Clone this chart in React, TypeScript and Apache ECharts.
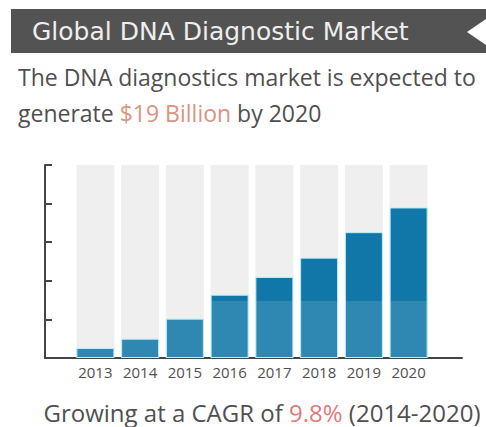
import React, { useEffect, useRef } from "react";
import * as echarts from "echarts";

const years = ["2013", "2014", "2015", "2016", "2017", "2018", "2019", "2020"];
const marketValues = [1.3, 2.5, 5.1, 8.2, 10.5, 13.0, 16.3, 19.5];
const yTicks = { min: 0, max: 25, interval: 5 };

const titleText = "Global DNA Diagnostic Market";
const subtitleLine1 = "The DNA diagnostics market is expected to";
const subtitleLine2Start = "generate ";
const subtitleHighlight = "$19 Billion";
const subtitleLine2End = " by 2020";
const footerStart = "Growing at a CAGR of ";
const footerHighlight = "9.8%";
const footerEnd = " (2014-2020)";

export default function App() {
  const ref = useRef<HTMLDivElement>(null);
  useEffect(() => {
    if (!ref.current) return;
    const chart = echarts.init(ref.current, null, { renderer: "svg" });
    const barColor = new echarts.graphic.LinearGradient(0, 0, 0, 427, [
      { offset: 0, color: "#1176a8" },
      { offset: 301 / 427, color: "#1176a8" },
      { offset: 301 / 427 + 0.001, color: "#2e88b2" },
      { offset: 1, color: "#2e88b2" },
    ], true);
    chart.setOption({
      animation: false,
      backgroundColor: "#ffffff",
      graphic: [
        { type: "rect", shape: { x: 11, y: 9, width: 475, height: 44 }, style: { fill: "#535353" } },
        { type: "polygon", shape: { points: [[486, 19], [467, 32], [486, 45]] }, style: { fill: "#ffffff" } },
        {
          type: "text", x: 32, y: 31,
          style: { text: titleText, fill: "#eeeeee", font: "25px 'DejaVu Sans'", textVerticalAlign: "middle" },
        },
        {
          type: "text", x: 18, y: 77,
          style: { text: subtitleLine1, fill: "#505050", font: "23px 'Open Sans'", textVerticalAlign: "middle" },
        },
        {
          type: "text", x: 18, y: 113,
          style: {
            text: `{a|${subtitleLine2Start}}{b|${subtitleHighlight}}{a|${subtitleLine2End}}`,
            textVerticalAlign: "middle",
            rich: {
              a: { fill: "#505050", font: "23px 'Open Sans'" },
              b: { fill: "#d9957f", font: "23px 'Open Sans'" },
            },
          },
        },
        {
          type: "text", x: 262, y: 412,
          style: {
            text: `{a|${footerStart}}{b|${footerHighlight}}{a|${footerEnd}}`,
            textAlign: "center",
            textVerticalAlign: "middle",
            rich: {
              a: { fill: "#505050", font: "24px 'Open Sans'" },
              b: { fill: "#e07a7a", font: "24px 'Open Sans'" },
            },
          },
        },
      ],
      grid: [
        { left: 73, right: 55, top: 165, bottom: 69 },
        { left: 45, right: 24, top: 165, bottom: 69 },
      ],
      xAxis: [
        {
          type: "category", data: years, gridIndex: 0,
          axisLine: { show: false }, axisTick: { show: false },
          axisLabel: { color: "#505050", fontSize: 15, fontFamily: "Open Sans", margin: 6 },
        },
        {
          type: "value", gridIndex: 1, min: 0, max: 1,
          axisLine: { show: true, lineStyle: { color: "#444", width: 2 } },
          axisTick: { show: false }, axisLabel: { show: false }, splitLine: { show: false },
        },
      ],
      yAxis: [
        {
          type: "value", gridIndex: 0, min: yTicks.min, max: yTicks.max, interval: yTicks.interval,
          offset: 28,
          axisLine: { show: true, lineStyle: { color: "#444", width: 2 } },
          axisTick: { show: true, inside: true, length: 7, lineStyle: { color: "#444", width: 2 } },
          axisLabel: { show: false }, splitLine: { show: false },
        },
        {
          type: "value", gridIndex: 1, show: false,
        },
      ],
      series: [
        {
          type: "bar", data: marketValues, xAxisIndex: 0, yAxisIndex: 0,
          barWidth: 38,
          showBackground: true,
          backgroundStyle: { color: "#efefef" },
          itemStyle: { color: barColor, borderColor: "#b8eff9", borderWidth: 1 },
        },
      ],
    });
    return () => chart.dispose();
  }, []);
  return <div ref={ref} style={{ width: 486, height: 427, position: "absolute", left: 0, top: 0 }} />;
}
